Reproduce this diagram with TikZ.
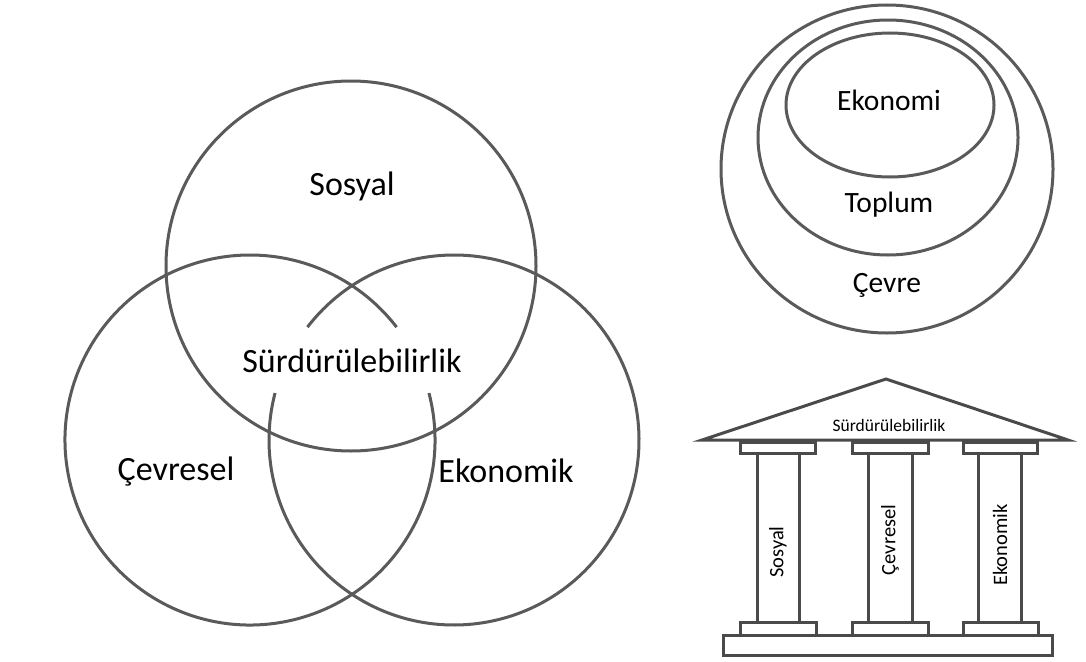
\documentclass[tikz,border=0pt]{standalone}
\usepackage{fontspec}
\setmainfont{Carlito}
\definecolor{ringgray}{HTML}{5A5A5A}
\definecolor{partgray}{HTML}{4A4A4A}
\begin{document}
\begin{tikzpicture}[x=1pt,y=-1pt,
  ring/.style={draw=ringgray, line width=3pt},
  part/.style={draw=partgray, line width=3pt, fill=white},
  lbl/.style={inner sep=0pt, anchor=base, text=black},
  vlbl/.style={inner sep=0pt, anchor=center, text=black, rotate=90, font=\fontsize{20.5}{24}\selectfont}]
\useasboundingbox[fill=white] (0,0) rectangle (1086,661);
% Venn diagram
\draw[ring] (351,266) circle (185);
\draw[ring] ([shift={(-14.7:185)}]250,440) arc[start angle=-14.7, end angle=322.4, radius=185];
\draw[ring] ([shift={(217.6:185)}]454,440) arc[start angle=217.6, end angle=554.7, radius=185];
\node[lbl, font=\fontsize{34}{40}\selectfont] (sosyal) at (352,195) {Sosyal};
\node[lbl, font=\fontsize{34}{40}\selectfont] (cevresel) at (176,480) {Çevresel};
\node[lbl, font=\fontsize{34}{40}\selectfont] (ekonomik) at (506,482) {Ekonomik};
\node[lbl, font=\fontsize{34}{40}\selectfont] (surd) at (352,372) {Sürdürülebilirlik};
% nested circles
\draw[ring] (887,169) circle[x radius=166, y radius=164];
\draw[ring] (888,137.5) circle[x radius=130, y radius=117.5];
\draw[ring] (890,105) circle[x radius=104, y radius=72];
\node[lbl, font=\fontsize{29.5}{34}\selectfont] (ekonomi) at (889,110) {Ekonomi};
\node[lbl, font=\fontsize{29.5}{34}\selectfont] (toplum) at (889,212) {Toplum};
\node[lbl, font=\fontsize{29.5}{34}\selectfont] (cevre) at (887,292) {Çevre};
% temple
\draw[part, line join=miter] (702,440) -- (886,379) -- (1068,440) -- cycle;
\node[lbl, font=\fontsize{17.5}{20}\selectfont] (tsurd) at (889,431) {Sürdürülebilirlik};
\draw[part] (757,453) rectangle (799,622);
\draw[part] (868,453) rectangle (912,622);
\draw[part] (978,453) rectangle (1021,622);
\draw[part] (740,442) rectangle (815,453);
\draw[part] (852,442) rectangle (928,453);
\draw[part] (963,442) rectangle (1037,453);
\draw[part] (740,622) rectangle (816,635);
\draw[part] (852,622) rectangle (928,635);
\draw[part] (963,622) rectangle (1038,635);
\draw[part] (723,635) rectangle (1052,655);
\node[vlbl] (tsosyal) at (778,552) {Sosyal};
\node[vlbl] (tcevresel) at (890,540) {Çevresel};
\node[vlbl] (tekonomik) at (1000,545) {Ekonomik};
\end{tikzpicture}
\end{document}
